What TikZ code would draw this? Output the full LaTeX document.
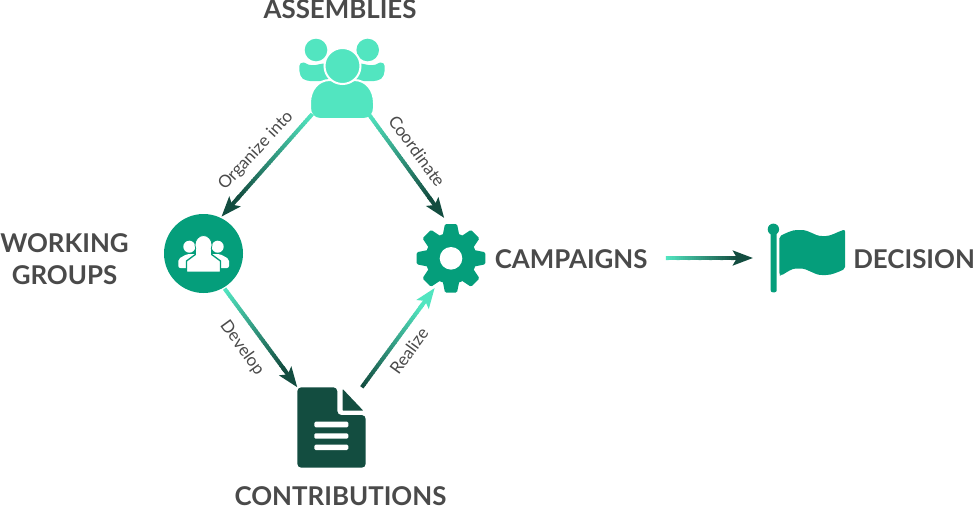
\documentclass[tikz,border=0pt]{standalone}
\usepackage{fontspec}
\setmainfont{Lato}
\usetikzlibrary{arrows.meta,calc}

\definecolor{mintcol}{HTML}{52E5C0}
\definecolor{teacol}{HTML}{059E7B}
\definecolor{darkcol}{HTML}{134D40}
\definecolor{textcol}{HTML}{4A4A4A}

\tikzset{
	iconbox/.style={inner sep=0, outer sep=0, minimum width=#1},
	title/.style={font=\bfseries\fontsize{19.4}{24}\selectfont, text=textcol, inner sep=0, align=center},
	edgelabel/.style={font=\fontsize{12.8}{15}\selectfont, text=textcol, inner sep=0},
	flowline/.style={line width=3pt, line cap=butt},
}

% line that fades from one colour to the other, tip in the last colour
\newcommand{\gradarrow}[4]{%
	\foreach \i in {0,...,32}{
		\pgfmathsetmacro{\ta}{\i/40}
		\pgfmathsetmacro{\tb}{(\i+1.3)/40}
		\pgfmathsetmacro{\pct}{\i/32*100}
		\draw[flowline, draw=#4!\pct!#3] ($(#1)!\ta!(#2)$) -- ($(#1)!\tb!(#2)$);
	}
	\draw[flowline, draw=#4, -{Stealth[length=15pt, width=11pt, inset=3pt]}] ($(#1)!0.8!(#2)$) -- (#2);
}

\begin{document}
\begin{tikzpicture}[x=0.75pt, y=-0.75pt]

	\useasboundingbox (0,0) rectangle (974,507);

	% places of the icons
	\node[iconbox=63.75pt, minimum height=57pt] (assemblies) at (342,76) {};
	\node[iconbox=61.5pt, minimum height=61.5pt, circle] (groups) at (203.5,253.5) {};
	\node[iconbox=51pt, minimum height=52.5pt] (gear) at (451,253) {};
	\node[iconbox=51.3pt, minimum height=60.3pt] (document) at (331.5,427.5) {};
	\node[iconbox=69pt, minimum height=51pt] (flag) at (799,258) {};

	% titles
	\node[title] (assembliestitle) at (340,9.5) {ASSEMBLIES};
	\node[title] (groupstitle) at (64.5,259) {WORKING\\GROUPS};
	\node[title, anchor=west] (campaigns) at (494.5,259) {CAMPAIGNS};
	\node[title, anchor=west] (decision) at (853,259) {DECISION};
	\node[title] (contributions) at (340.5,496.5) {CONTRIBUTIONS};

	% assemblies
	\fill[mintcol] (316,50) circle (11.3);
	\fill[mintcol] (367.7,50) circle (11.3);
	\fill[mintcol, rounded corners=3pt] (306,81) .. controls (299,76) and (298,65) .. (304,61) .. controls (308,65) and (314,66) .. (323,63) -- (330,64) -- (330,81) -- cycle;
	\fill[mintcol, rounded corners=3pt] (378,81) .. controls (385,76) and (386,65) .. (380,61) .. controls (376,65) and (370,66) .. (361,63) -- (354,64) -- (354,81) -- cycle;
	\filldraw[mintcol, draw=white, line width=1.5pt] (310,108) .. controls (310,114) and (314,119) .. (320,119) -- (364,119) .. controls (370,119) and (374,114) .. (374,108) -- (374,103) .. controls (374,90) and (366,80) .. (354,80) -- (330,80) .. controls (318,80) and (310,90) .. (310,103) -- cycle;
	\filldraw[mintcol, draw=white, line width=1.5pt] (342.5,66) circle (18);

	% working groups
	\fill[teacol] (203.5,253.5) circle (39.5);
	\fill[white] (189.3,246.7) circle (6);
	\fill[white] (217.7,246.7) circle (6);
	\fill[white, rounded corners=1.5pt] (178.3,268) -- (178.3,259) -- (187,254) -- (220,254) -- (229,259) -- (229,268) -- cycle;
	\filldraw[white, draw=teacol, line width=1pt] (186.5,272.2) -- (186.5,261) -- (196,254) -- (211,254) -- (220.5,261) -- (220.5,272.2) -- cycle;
	\filldraw[white, draw=teacol, line width=0.6pt] (203.5,245) ellipse (8.5 and 9.5);
	\fill[white] (196,249) rectangle (211,256);

	% gear
	\begin{scope}[shift={(451,258.3)}]
		\fill[teacol] (0,0) circle (25.5);
		\foreach \a in {0,45,...,315}
			\fill[teacol, rotate=\a, rounded corners=1pt] (-8.5,-22) -- (-6,-34.3) -- (6,-34.3) -- (8.5,-22) -- cycle;
		\fill[white] (0,0) circle (11.3);
	\end{scope}

	% document
	\fill[darkcol, rounded corners=3pt] (297.3,387.3) -- (337.3,387.3) -- (337.3,415) -- (365.7,415) -- (365.7,467.7) -- (297.3,467.7) -- cycle;
	\fill[darkcol, rounded corners=0.5pt] (342.7,389) -- (363.3,410.7) -- (342.7,410.7) -- cycle;
	\fill[white, rounded corners=1pt] (314.3,421.7) rectangle (348.3,427.3);
	\fill[white, rounded corners=1pt] (314.3,433.3) rectangle (348.3,438.7);
	\fill[white, rounded corners=1pt] (314.3,444.7) rectangle (348.3,450);

	% flag
	\fill[teacol, rounded corners=1.5pt] (770.7,229) rectangle (776.7,292.3);
	\fill[teacol] (773.4,229.3) circle (5.7);
	\fill[teacol, rounded corners=1.5pt] (779.3,236.5) .. controls (786,233) and (792,230) .. (799,230) .. controls (810,230) and (814,236) .. (824,236) .. controls (831,236) and (837,232) .. (845,229.5) -- (845,269) .. controls (838,272) and (832,275) .. (824,275) .. controls (813,275) and (809,268.5) .. (798,268.5) .. controls (792,268.5) and (787,272) .. (781,275.7) -- (779.3,275) -- cycle;

	% arrows
	\coordinate (campaignsout) at ($(campaigns.east)+(18,-1)$);
	\gradarrow{assemblies.232.65}{groups.64}{mintcol}{darkcol}
	\gradarrow{assemblies.305.4}{gear.101.3}{mintcol}{darkcol}
	\gradarrow{groups.-59}{document.north west}{mintcol}{darkcol}
	\gradarrow{document.53.7}{gear.245.4}{darkcol}{mintcol}
	\gradarrow{campaignsout}{flag.west}{mintcol}{darkcol}

	% arrow labels
	\node[edgelabel, rotate=47] (organizelabel) at (256,151) {Organize into};
	\node[edgelabel, rotate=-54] (coordinatelabel) at (417,151) {Coordinate};
	\node[edgelabel, rotate=-54] (developlabel) at (242,348) {Develop};
	\node[edgelabel, rotate=54] (realizelabel) at (409,351) {Realize};

\end{tikzpicture}
\end{document}
